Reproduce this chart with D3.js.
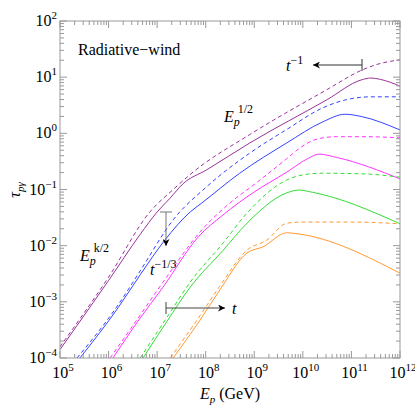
<!DOCTYPE html><html><head><meta charset="utf-8"><script src="https://cdn.jsdelivr.net/npm/d3@7"></script>
<style>body{margin:0;background:#fff}</style></head><body>
<svg id="c" width="415" height="408"></svg>
<script>
// [log10 Ep, log10 tau]
const colors = ["#993399","#3344ff","#ff33ff","#33dd33","#ff9933"];
const solid = [
 [[5,-3.85],[6,-2.62],[6.65,-1.8],[7.0,-1.4],[7.26,-1.16],[7.53,-0.9],[8.02,-0.65],[8.91,-0.17],[10.5,0.6],[11.2,0.95],[11.4,0.985],[11.6,0.96],[12,0.84]],
 [[5.41,-4],[6.2,-3.1],[6.65,-2.52],[7.16,-1.9],[7.68,-1.4],[7.92,-1.24],[8.7,-0.71],[9.67,-0.17],[10.4,0.2],[10.87,0.34],[11.2,0.3],[12,0.06]],
 [[6.09,-4],[6.6,-3.35],[7.12,-2.74],[7.84,-1.85],[8.36,-1.45],[8.97,-1.06],[9.67,-0.69],[10.1,-0.45],[10.33,-0.37],[10.7,-0.43],[12,-0.81]],
 [[6.71,-4],[7.2,-3.35],[7.68,-2.74],[8.36,-2.08],[8.85,-1.6],[9.67,-1.06],[9.92,-1.01],[10.2,-1.05],[12,-1.61]],
 [[7.33,-4],[7.88,-3.33],[8.29,-2.79],[8.85,-2.13],[9.18,-2.02],[9.67,-1.77],[9.9,-1.79],[12,-2.49]]
];
const dashed = [
 [[5,-3.8],[6,-2.56],[6.85,-1.4],[7.33,-1.0],[7.74,-0.69],[8.91,-0.02],[10.5,0.78],[11.2,1.12],[11.5,1.22],[12,1.31]],
 [[5.35,-4],[6.2,-3.05],[6.65,-2.45],[7.33,-1.54],[8.02,-0.95],[8.91,-0.35],[9.67,0.07],[10.4,0.45],[10.9,0.6],[11.4,0.65],[12,0.65]],
 [[6.03,-4],[6.6,-3.3],[7.12,-2.65],[7.95,-1.69],[8.5,-1.24],[9.06,-0.87],[9.67,-0.45],[9.94,-0.26],[10.3,-0.1],[10.7,-0.06],[11.3,-0.06],[12,-0.08]],
 [[6.65,-4],[7.2,-3.28],[7.68,-2.65],[8.36,-1.95],[8.85,-1.42],[9.67,-0.83],[10.0,-0.74],[10.4,-0.71],[11.2,-0.72],[12,-0.78]],
 [[7.27,-4],[7.88,-3.25],[8.29,-2.72],[8.85,-2.08],[9.26,-1.9],[9.67,-1.6],[10.0,-1.58],[11,-1.58],[12,-1.61]]
];
const xTicks = [5,6,7,8,9,10,11,12];
const yTicks = [-4,-3,-2,-1,0,1,2];

const svg = d3.select("#c");
const x = d3.scaleLog().domain([1e5,1e12]).range([60,400]);
const y = d3.scaleLog().domain([1e-4,1e2]).range([358,21]);
svg.append("clipPath").attr("id","cl").append("rect").attr("x",60).attr("y",21).attr("width",340).attr("height",337);
const line = d3.line().x(d=>x(Math.pow(10,d[0]))).y(d=>y(Math.pow(10,d[1]))).curve(d3.curveMonotoneX);
const lg = svg.append("g").attr("clip-path","url(#cl)");
solid.forEach((s,i)=>lg.append("path").attr("d",line(s)).attr("fill","none").attr("stroke",colors[i]).attr("stroke-width",1));
dashed.forEach((s,i)=>lg.append("path").attr("d",line(s)).attr("fill","none").attr("stroke",colors[i]).attr("stroke-width",1).attr("stroke-dasharray","4,3"));

const ax = svg.append("g").attr("stroke","#999").attr("stroke-width",1);
ax.append("rect").attr("x",60).attr("y",21).attr("width",340).attr("height",337).attr("fill","none");
xTicks.forEach(e=>{
  const X=x(Math.pow(10,e));
  ax.append("line").attr("x1",X).attr("x2",X).attr("y1",358).attr("y2",351);
  ax.append("line").attr("x1",X).attr("x2",X).attr("y1",21).attr("y2",28);
  if(e<12) for(let m=2;m<10;m++){const Xm=x(m*Math.pow(10,e));
    ax.append("line").attr("x1",Xm).attr("x2",Xm).attr("y1",358).attr("y2",354);
    ax.append("line").attr("x1",Xm).attr("x2",Xm).attr("y1",21).attr("y2",25);}
});
yTicks.forEach(e=>{
  const Y=y(Math.pow(10,e));
  ax.append("line").attr("x1",60).attr("x2",67).attr("y1",Y).attr("y2",Y);
  ax.append("line").attr("x1",400).attr("x2",393).attr("y1",Y).attr("y2",Y);
  if(e<2) for(let m=2;m<10;m++){const Ym=y(m*Math.pow(10,e));
    ax.append("line").attr("x1",60).attr("x2",64).attr("y1",Ym).attr("y2",Ym);
    ax.append("line").attr("x1",400).attr("x2",396).attr("y1",Ym).attr("y2",Ym);}
});
const lab = svg.append("g").attr("font-size",16).attr("fill","#000");
xTicks.forEach(e=>{const t=lab.append("text").attr("x",x(Math.pow(10,e))+3).attr("y",378).attr("text-anchor","middle");
  t.append("tspan").text("10");t.append("tspan").attr("dy",-7).attr("font-size",11).text(e);});
yTicks.forEach(e=>{const t=lab.append("text").attr("x",57).attr("y",y(Math.pow(10,e))+5).attr("text-anchor","end");
  t.append("tspan").text("10");t.append("tspan").attr("dy",-7).attr("font-size",11).text(e<0?"−"+(-e):e);});

const yt = svg.append("text").attr("transform","translate(20,190) rotate(-90)").attr("text-anchor","middle").attr("font-size",16).attr("font-style","italic");
yt.append("tspan").text("τ");yt.append("tspan").attr("dy",4).attr("font-size",11).text("pγ");
const xt = svg.append("text").attr("x",230).attr("y",399).attr("text-anchor","middle").attr("font-size",16);
xt.append("tspan").attr("font-style","italic").text("E");xt.append("tspan").attr("dy",4).attr("font-size",11).attr("font-style","italic").text("p");xt.append("tspan").attr("dy",-4).text(" (GeV)");

svg.append("text").attr("x",78).attr("y",55).attr("font-size",16).text("Radiative−wind");

function sup(xp,yp,base,sub,sp){const t=svg.append("text").attr("x",xp).attr("y",yp).attr("font-size",16).attr("font-style","italic");
 t.append("tspan").text(base);
 if(sub){t.append("tspan").attr("dy",4).attr("font-size",12).text(sub);t.append("tspan").attr("dx",-2).attr("dy",-13).attr("font-size",12).attr("font-style","normal").text(sp);}
 else t.append("tspan").attr("dy",-7).attr("font-size",12).attr("font-style","normal").text(sp);}
sup(224,122,"E","p","1/2");
sup(80,261,"E","p","k/2");
sup(286,71,"t",null,"−1");
sup(150,275,"t",null,"−1/3");
svg.append("text").attr("x",232).attr("y",314).attr("font-size",16).attr("font-style","italic").text("t");

svg.append("defs").append("marker").attr("id","ah").attr("viewBox","0 0 10 10").attr("refX",10).attr("refY",5).attr("markerWidth",10).attr("markerHeight",7).attr("orient","auto-start-reverse").attr("markerUnits","userSpaceOnUse")
 .append("path").attr("d","M0,0L10,5L0,10L3,5Z").attr("fill","#000");
function arrow(x1,y1,x2,y2,col){svg.append("line").attr("x1",x1).attr("y1",y1).attr("x2",x2).attr("y2",y2).attr("stroke",col).attr("marker-end","url(#ah)");
 const dx=x2-x1,dy=y2-y1,L=Math.hypot(dx,dy),nx=-dy/L*6,ny=dx/L*6;
 svg.append("line").attr("x1",x1-nx).attr("y1",y1-ny).attr("x2",x1+nx).attr("y2",y1+ny).attr("stroke",col);}
arrow(362,65,313,65,"#333");
arrow(166,212,166,246,"#777");
arrow(166,308,225,308,"#444");
svg.selectAll("text").style("font-family","'Liberation Serif'");
</script></body></html>
